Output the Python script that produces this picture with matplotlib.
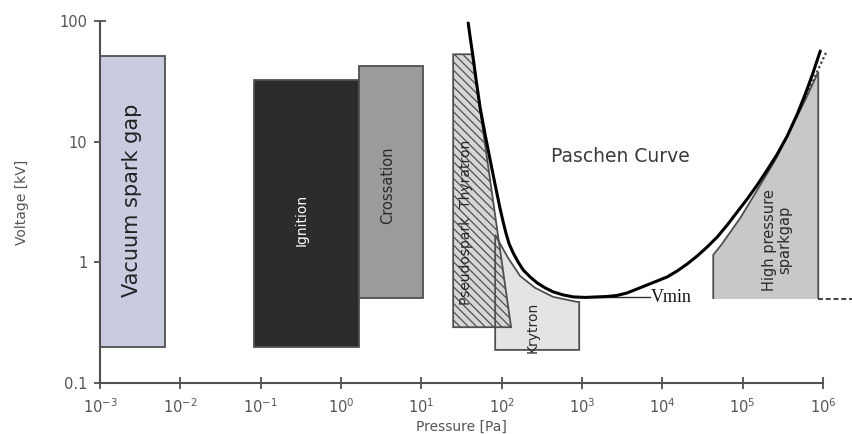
import matplotlib
matplotlib.use("Agg")
import matplotlib.pyplot as plt
from matplotlib.patches import Polygon

# ---------------- data ----------------
# Paschen curve (pressure [Pa], voltage [kV])
paschen_p = [38.3, 40.5, 44.2, 48.1, 54.0, 62.3, 71.9, 83.0, 95.8, 104.4,
             113.8, 124, 139, 160, 185, 226, 277, 348, 438, 583, 777, 1096,
             1545, 2061, 2742, 3655, 4866, 6486, 8630, 11500, 15340, 20420,
             27220, 36230, 48300, 64300, 85700, 114000, 152000, 202000,
             270000, 359000, 479000, 602000, 736000, 873000, 925000]
paschen_v = [96.2, 73.7, 49.4, 32.5, 19.0, 11.4, 7.05, 4.38, 2.77, 2.16,
             1.72, 1.42, 1.197, 1.008, 0.865, 0.757, 0.675, 0.614, 0.569,
             0.537, 0.517, 0.512, 0.517, 0.521, 0.532, 0.558, 0.602, 0.650,
             0.701, 0.757, 0.849, 0.970, 1.130, 1.342, 1.623, 2.04, 2.62,
             3.35, 4.38, 5.83, 7.91, 11.15, 16.96, 24.8, 35.7, 50.3, 56.4]

# rectangular regions: (p_left, p_right, v_bottom, v_top)
vacuum_box = (1e-3, 6.4e-3, 0.2, 51)
ignition_box = (0.083, 1.68, 0.2, 32.4)
crossation_box = (1.68, 10.5, 0.51, 42.4)

# Pseudospark / Thyratron trapezoid
thyratron_p = [24.9, 43, 131, 24.9]
thyratron_v = [53, 53, 0.29, 0.29]

# Krytron region
krytron_p = [83, 83, 120, 170, 261, 438, 871, 923, 923]
krytron_v = [0.188, 1.69, 1.09, 0.77, 0.614, 0.517, 0.47, 0.47, 0.188]

# High pressure sparkgap region
hp_p = [43000, 43000, 54100, 93300, 152000, 255000, 392000, 602000, 873000, 873000]
hp_v = [0.497, 1.152, 1.394, 2.33, 3.98, 7.05, 12.5, 22.2, 37.8, 0.497]
hp_dotted_p = [521000, 1.1e6]
hp_dotted_v = [19.0, 55.4]
hp_dashed_p = [873000, 2.3e6]
hp_dashed_v = [0.497, 0.497]

# Vmin marker line
vmin_p = [1265, 7060]
vmin_v = [0.517, 0.517]

x_ticks = [1e-3, 1e-2, 1e-1, 1e0, 1e1, 1e2, 1e3, 1e4, 1e5, 1e6]
x_ticklabels = [r"$10^{-3}$", r"$10^{-2}$", r"$10^{-1}$", r"$10^{0}$", r"$10^{1}$",
                r"$10^{2}$", r"$10^{3}$", r"$10^{4}$", r"$10^{5}$", r"$10^{6}$"]
y_ticks = [0.1, 1, 10, 100]
y_ticklabels = ["0.1", "1", "10", "100"]

# ---------------- figure ----------------
W, H = 852, 434
fig = plt.figure(figsize=(W / 100, H / 100), dpi=100)
ax = fig.add_axes([100 / W, 1 - 383 / H, 723 / W, 362 / H])
ax.set_xscale("log")
ax.set_yscale("log")
ax.set_xlim(1e-3, 1e6)
ax.set_ylim(0.1, 100)

edge = "#505050"
plt.rcParams["hatch.color"] = "#4a4a4a"
plt.rcParams["hatch.linewidth"] = 0.9


def box(b, fc, z=2):
    p0, p1, v0, v1 = b
    poly = Polygon([(p0, v0), (p0, v1), (p1, v1), (p1, v0)], closed=True,
                   facecolor=fc, edgecolor=edge, linewidth=1.3, zorder=z)
    ax.add_patch(poly)


box(vacuum_box, "#c9cce0")
box(ignition_box, "#2c2c2c")
box(crossation_box, "#9b9b9b")

# Krytron fill
ax.add_patch(Polygon(list(zip(krytron_p, krytron_v)), closed=True,
                     facecolor="#e4e4e4", edgecolor="none", zorder=2))
# Thyratron hatched
ax.add_patch(Polygon(list(zip(thyratron_p, thyratron_v)), closed=True,
                     facecolor="#d6d6d6", edgecolor=edge, linewidth=1.3,
                     hatch="\\\\\\\\", zorder=3))
# Krytron outline on top
ax.add_patch(Polygon(list(zip(krytron_p, krytron_v)), closed=True,
                     facecolor="none", edgecolor=edge, linewidth=1.3, zorder=4))

# High pressure sparkgap
ax.add_patch(Polygon(list(zip(hp_p, hp_v)), closed=False,
                     facecolor="#c8c8c8", edgecolor=edge, linewidth=1.3, zorder=2))
ax.plot(hp_dotted_p, hp_dotted_v, color="#404040", lw=1.6, ls=(0, (1, 1.2)),
        zorder=4, clip_on=False)
ax.plot(hp_dashed_p, hp_dashed_v, color="#404040", lw=1.4, ls=(0, (2.5, 1.5)),
        zorder=4, clip_on=False)

# Vmin line
ax.plot(vmin_p, vmin_v, color="#303030", lw=1.0, zorder=4)

# Paschen curve
ax.plot(paschen_p, paschen_v, color="black", lw=2.2, zorder=5,
        solid_capstyle="round", solid_joinstyle="round")

# ---------------- texts ----------------
tc = "#3a3a3a"
ax.text(1e-3 * 10 ** (32 / 80.3), 10 ** (2 - 179 / 120.7), "Vacuum spark gap",
        rotation=90, ha="center", va="center", fontsize=15, color="#222222",
        zorder=6)
ax.text(10 ** (-3 + 202 / 80.3), 10 ** (2 - 199 / 120.7), "Ignition",
        rotation=90, ha="center", va="center", fontsize=10, color="white",
        zorder=6)
ax.text(10 ** (-3 + 288 / 80.3), 10 ** (2 - 164 / 120.7), "Crossation",
        rotation=90, ha="center", va="center", fontsize=10.5, color="#2a2a2a",
        zorder=6)
ax.text(10 ** (-3 + 366 / 80.3), 10 ** (2 - 201 / 120.7), "Pseudospark  Thyratron",
        rotation=90, ha="center", va="center", fontsize=10, color="#2a2a2a",
        zorder=6)
ax.text(10 ** (-3 + 432 / 80.3), 10 ** (2 - 306 / 120.7), "Krytron",
        rotation=90, ha="center", va="center", fontsize=10, color="#2a2a2a",
        zorder=6)
ax.text(10 ** (-3 + 520 / 80.3), 10 ** (2 - 136 / 120.7), "Paschen Curve",
        ha="center", va="center", fontsize=13.5, color=tc, zorder=6)
ax.text(10 ** (-3 + 677 / 80.3), 10 ** (2 - 219 / 120.7), "High pressure\nsparkgap",
        rotation=90, ha="center", va="center", fontsize=10.5, color="#2a2a2a",
        linespacing=1.0, zorder=6)
ax.text(10 ** (-3 + 551 / 80.3), 10 ** (2 - 277 / 120.7), "Vmin",
        ha="left", va="center", fontsize=13, color="#111111",
        family=["Liberation Serif", "DejaVu Serif"], zorder=6)

# ---------------- axes styling ----------------
for s in ("top", "right"):
    ax.spines[s].set_visible(False)
for s in ("left", "bottom"):
    ax.spines[s].set_color(edge)
    ax.spines[s].set_linewidth(1.5)

ax.set_xticks(x_ticks)
ax.set_xticklabels(x_ticklabels)
ax.set_yticks(y_ticks)
ax.set_yticklabels(y_ticklabels)
ax.minorticks_off()
ax.tick_params(axis="both", direction="inout", length=8, width=1.3,
               color=edge, labelcolor="#555555", labelsize=10.5)
ax.tick_params(axis="x", pad=6)
ax.tick_params(axis="y", pad=5)

ax.set_xlabel("Pressure [Pa]", fontsize=10, color="#555555", labelpad=3)
ax.set_ylabel("Voltage [kV]", fontsize=10, color="#555555", labelpad=22)

fig.savefig("out.png", dpi=100)
